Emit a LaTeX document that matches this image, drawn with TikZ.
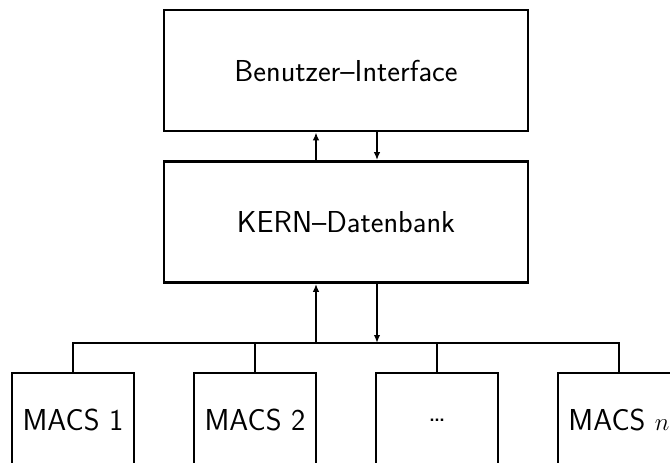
\documentclass[tikz,border=0pt]{standalone}
\usetikzlibrary{arrows.meta}
\begin{document}
\begin{tikzpicture}[x=1pt,y=-1pt,
  box/.style={draw,line width=2.8pt,rectangle,inner sep=0pt,
    font=\fontsize{30.3}{36}\selectfont\sffamily},
  bigbox/.style={box,minimum width=364pt,minimum height=121pt},
  macsbox/.style={box,minimum width=122pt,minimum height=94pt},
  link/.style={line width=1.8pt},
  arr/.style={link,-{Latex[length=8pt,width=6.5pt]}}]
  \useasboundingbox (0,0) rectangle (670,463);
  \clip (0,0) rectangle (670,463);
  % main boxes
  \node[bigbox] (ui) at (346,70.5) {Benutzer--Interface};
  \node[bigbox] (db) at (346,222) {KERN--Datenbank};
  % client boxes
  \node[macsbox] (m1) at (73,420) {MACS 1};
  \node[macsbox] (m2) at (255,420) {MACS 2};
  \node[macsbox] (m3) at (437,420) {\dots};
  \node[macsbox] (mn) at (619,420) {MACS $n$};
  % bus line
  \coordinate (busL) at (73,343);
  \coordinate (busR) at (619,343);
  \coordinate (busU) at (316,343);
  \coordinate (busD) at (377,343);
  \draw[link] (m1.north) |- (busR) -- (mn.north);
  \draw[link] (m2.north) -- (m2.north |- busL);
  \draw[link] (m3.north) -- (m3.north |- busL);
  % arrows between layers
  \draw[arr] (db.north -| busU) -- (ui.south -| busU);
  \draw[arr] (ui.south -| busD) -- (db.north -| busD);
  \draw[arr] (busU) -- (db.south -| busU);
  \draw[arr] (db.south -| busD) -- (busD);
\end{tikzpicture}
\end{document}
